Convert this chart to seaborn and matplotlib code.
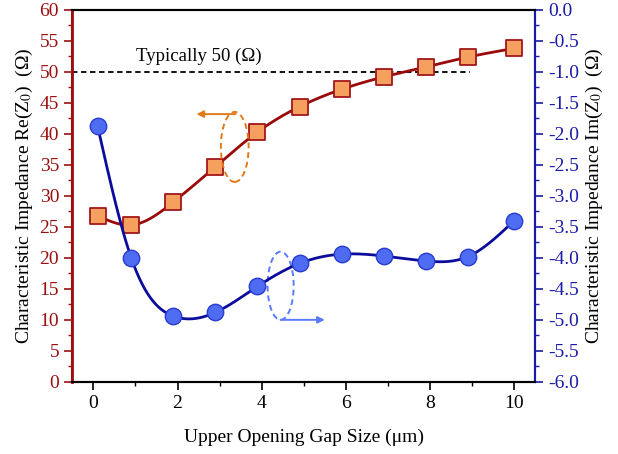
import numpy as np
import pandas as pd
import matplotlib
matplotlib.use("Agg")
import matplotlib.pyplot as plt
import seaborn as sns
from matplotlib.patches import Ellipse
from matplotlib.ticker import MultipleLocator

gap = [0.1, 0.9, 1.9, 2.9, 3.9, 4.9, 5.9, 6.9, 7.9, 8.9, 10.0]
re_z = [26.8, 25.3, 29.0, 34.7, 40.3, 44.4, 47.2, 49.2, 50.8, 52.4, 53.8]
im_z = [-1.87, -4.00, -4.94, -4.88, -4.46, -4.09, -3.94, -3.97, -4.05, -3.98, -3.40]
x_ticks = [0, 2, 4, 6, 8, 10]
re_ticks = list(range(0, 61, 5))
im_ticks = [round(-6 + 0.5 * i, 1) for i in range(13)]


def natural_spline(x, y, n=400):
    x = np.asarray(x, float); y = np.asarray(y, float)
    k = len(x); h = np.diff(x)
    A = np.zeros((k, k)); b = np.zeros(k)
    A[0, 0] = A[-1, -1] = 1
    for i in range(1, k - 1):
        A[i, i - 1] = h[i - 1]; A[i, i] = 2 * (h[i - 1] + h[i]); A[i, i + 1] = h[i]
        b[i] = 3 * ((y[i + 1] - y[i]) / h[i] - (y[i] - y[i - 1]) / h[i - 1])
    c = np.linalg.solve(A, b)
    xs = np.linspace(x[0], x[-1], n)
    idx = np.clip(np.searchsorted(x, xs) - 1, 0, k - 2)
    dx = xs - x[idx]
    bb = (y[idx + 1] - y[idx]) / h[idx] - h[idx] * (2 * c[idx] + c[idx + 1]) / 3
    dd = (c[idx + 1] - c[idx]) / (3 * h[idx])
    ys = y[idx] + bb * dx + c[idx] * dx ** 2 + dd * dx ** 3
    return xs, ys


sns.set_theme(style="white")
plt.rcParams['font.family'] = ['Liberation Serif', 'DejaVu Serif']
plt.rcParams['mathtext.fontset'] = 'stix'

RED = '#9b0f0f'
BLUE = '#1a1aa8'
fig = plt.figure(figsize=(6.18, 4.54), dpi=100)
ax = fig.add_axes([0.117, 0.159, 0.749, 0.819])
ax2 = ax.twinx()

df = pd.DataFrame({'gap': gap, 're': re_z, 'im': im_z})
xs, ys = natural_spline(gap, re_z)
sns.lineplot(x=xs, y=ys, ax=ax, color='#9b0a0a', lw=2, zorder=2)
sns.scatterplot(data=df, x='gap', y='re', ax=ax, marker='s', s=120,
                color='#f5a05e', edgecolor='#a3171a', linewidth=1.3, zorder=3)
xs2, ys2 = natural_spline(gap, im_z)
sns.lineplot(x=xs2, y=ys2, ax=ax2, color='#0c0c9c', lw=2, zorder=2)
sns.scatterplot(data=df, x='gap', y='im', ax=ax2, marker='o', s=140,
                color='#4d6cf2', edgecolor='#2a3bd0', linewidth=1.0, zorder=3)

ax.set_xlim(-0.5, 10.5)
ax.set_ylim(0, 60)
ax2.set_ylim(-6, 0)
ax.set_xticks(x_ticks)
ax.set_yticks(re_ticks)
ax2.set_yticks(im_ticks)
ax2.set_yticklabels([f'{v:.1f}' for v in im_ticks])
ax.xaxis.set_minor_locator(MultipleLocator(1))
ax.yaxis.set_minor_locator(MultipleLocator(2.5))
ax2.yaxis.set_minor_locator(MultipleLocator(0.25))

for a in (ax, ax2):
    for s in a.spines.values():
        s.set_linewidth(1.5)
        s.set_color('black')
ax.spines['left'].set_color(RED)
ax2.spines['left'].set_color(RED)
ax2.spines['left'].set_linewidth(2)
ax.spines['right'].set_color(BLUE)
ax2.spines['right'].set_color(BLUE)

ax.tick_params(axis='x', which='both', direction='out', bottom=True, top=False,
               labelsize=14, colors='black')
ax.tick_params(axis='x', which='major', length=6, width=1.2)
ax.tick_params(axis='x', which='minor', length=3, width=1.0)
ax.tick_params(axis='y', which='both', direction='out', left=True, right=False,
               colors=RED, labelsize=14, labelcolor=RED)
ax.tick_params(axis='y', which='major', length=6, width=1.2)
ax.tick_params(axis='y', which='minor', length=3, width=1.0)
ax2.tick_params(axis='y', which='both', direction='out', right=True, left=False,
                colors=BLUE, labelsize=14, labelcolor=BLUE)
ax2.tick_params(axis='y', which='major', length=6, width=1.2)
ax2.tick_params(axis='y', which='minor', length=3, width=1.0)

ax.set_xlabel('Upper Opening Gap Size (μm)', fontsize=14, color='black', labelpad=12)
ax.set_ylabel('Characteristic Impedance Re(Z$_0$)  (Ω)', fontsize=14, color='black', labelpad=3)
ax2.set_ylabel('Characteristic Impedance Im(Z$_0$)  (Ω)', fontsize=14, color='black', labelpad=3)

ax.plot([-0.5, 8.95], [50, 50], ls=(0, (3, 2)), color='black', lw=1.3, zorder=1)
ax.text(2.5, 51.2, 'Typically 50 (Ω)', fontsize=13.5, ha='center', va='bottom', color='black')

ax.add_patch(Ellipse((3.36, 37.9), 0.66, 11.3, fill=False, ls=(0, (3, 2)),
                     ec='#e07b1a', lw=1.4, zorder=4))
ax.annotate('', xy=(2.45, 43.2), xytext=(3.38, 43.2),
            arrowprops=dict(arrowstyle='-|>', color='#e07b1a', lw=1.4,
                            mutation_scale=10, shrinkA=0, shrinkB=0))
ax.add_patch(Ellipse((4.45, 15.5), 0.62, 11.0, fill=False, ls=(0, (3, 2)),
                     ec='#5b7bff', lw=1.4, zorder=4))
ax.annotate('', xy=(5.5, 10.0), xytext=(4.45, 10.0),
            arrowprops=dict(arrowstyle='-|>', color='#5b7bff', lw=1.4,
                            mutation_scale=10, shrinkA=0, shrinkB=0))

fig.savefig('out.png', dpi=100)
